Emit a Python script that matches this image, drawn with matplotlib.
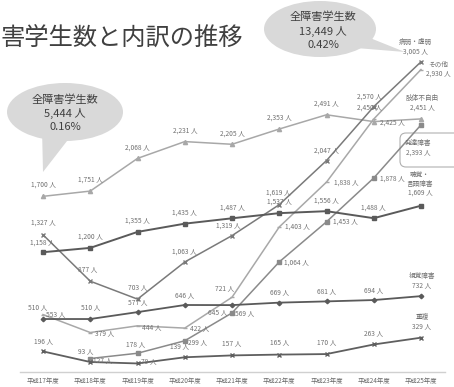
import matplotlib
matplotlib.use("Agg")
import matplotlib.pyplot as plt
from matplotlib.patches import Ellipse, Polygon, FancyBboxPatch

plt.rcParams['font.family'] = ['Noto Sans CJK JP', 'DejaVu Sans']

# ---------------- data ----------------
years = ["平成17年度", "平成18年度", "平成19年度", "平成20年度", "平成21年度",
         "平成22年度", "平成23年度", "平成24年度", "平成25年度"]
shitai = [1700, 1751, 2068, 2231, 2205, 2353, 2491, 2425, 2451]      # 肢体不自由
choukaku = [1158, 1200, 1355, 1435, 1487, 1537, 1556, 1488, 1609]    # 聴覚・言語障害
byoujaku = [1327, 877, 703, 1063, 1319, 1619, 2047, 2570, 3005]      # 病弱・虚弱
sonota = [553, 379, 444, 422, 721, 1403, 1838, 2450, 2930]           # その他
hattatsu = [None, 127, 178, 299, 569, 1064, 1453, 1878, 2393]        # 発達障害
shikaku = [510, 510, 577, 646, 645, 669, 681, 694, 732]              # 視覚障害
choufuku = [196, 93, 79, 139, 157, 165, 170, 263, 329]               # 重複
total_h17 = ["全障害学生数", "5,444 人", "0.16%"]
total_h25 = ["全障害学生数", "13,449 人", "0.42%"]
title = "害学生数と内訳の推移"

# ---------------- layout ----------------
W, H = 454, 387
fig = plt.figure(figsize=(W / 100, H / 100), dpi=100)
fig.patch.set_facecolor("white")

ov = fig.add_axes([0, 0, 1, 1], zorder=0)
ov.set_xlim(0, W)
ov.set_ylim(H, 0)
ov.axis("off")

ax = fig.add_axes([20 / W, 15.4 / H, 425 / W, 340 / H], zorder=1)
ax.patch.set_alpha(0)
ax.set_xlim(-0.487, 8.508)
ax.set_ylim(0, 3298)
for s in ["top", "right", "left"]:
    ax.spines[s].set_visible(False)
ax.spines["bottom"].set_color("#d0d0d0")
ax.spines["bottom"].set_linewidth(1.0)
ax.set_yticks([])
ax.set_xticks(range(len(years)))
ax.set_xticklabels(years, fontsize=4.6, color="#666666")
ax.tick_params(axis="x", length=0, pad=4)

x = list(range(len(years)))

def fmt(v):
    return f"{v:,} 人"

lab_color = "#707070"
lab_fs = 4.8

def draw(vals, color, lw, marker, ms, offs, mew=1.0):
    xs = [i for i, v in zip(x, vals) if v is not None]
    ys = [v for v in vals if v is not None]
    ax.plot(xs, ys, color=color, lw=lw, marker=marker, ms=ms,
            mec=color, mfc=color, mew=mew, zorder=3)
    for xi, v, (dx, dy, ha) in zip(xs, ys, offs):
        if ha is None:
            continue
        ax.annotate(fmt(v), (xi, v), xytext=(dx, dy), textcoords="offset pixels",
                    ha=ha, va="center", fontsize=lab_fs, color=lab_color, zorder=4)

# offsets per point (dx, dy, ha); last point handled by end label
off_shitai = [(0, 12, "center"), (0, 11, "center"), (0, 11, "center"), (0, 11, "center"),
              (0, 11, "center"), (0, 11, "center"), (0, 11, "center"), (6, -1, "left"),
              (0, 0, None)]
off_byou = [(0, 12, "center"), (-3, 12, "center"), (0, 12, "center"), (0, 10, "center"),
            (-4, 10, "center"), (-1, 12, "center"), (0, 10, "center"), (-4, 10, "center"),
            (0, 0, None)]
off_sonota = [(3, 0, "left"), (5, -1, "left"), (4, -1, "left"), (5, 0, "left"),
              (-7, 9, "center"), (6, 0, "left"), (7, -1, "left"), (-4, 11, "center"),
              (0, 0, None)]
off_hattatsu = [(3, -2, "left"), (-2, 9, "center"), (3, -1, "left"), (3, 0, "left"),
                (5, -1, "left"), (6, 0, "left"), (6, -1, "left"), (0, 0, None)]
off_shikaku = [(-5, 12, "center"), (0, 12, "center"), (0, 10, "center"), (0, 10, "center"),
               (-14, -7, "center"), (0, 10, "center"), (0, 10, "center"), (0, 10, "center"),
               (0, 0, None)]
off_chou = [(-1, 10, "center")] + [(0, 11, "center")] * 7 + [(0, 0, None)]
off_juu = [(0, 10, "center"), (-5, 11, "center"), (3, 2, "left"), (-5, 11, "center"),
           (0, 12, "center"), (0, 12, "center"), (0, 12, "center"), (0, 11, "center"),
           (0, 0, None)]

draw(shitai, "#a8a8a8", 1.1, "^", 3, off_shitai)
draw(sonota, "#a8a8a8", 1.1, "_", 3, off_sonota)
draw(byoujaku, "#7a7a7a", 1.1, "x", 3, off_byou)
draw(hattatsu, "#8a8a8a", 1.1, "s", 2.6, off_hattatsu)
draw(choukaku, "#5a5a5a", 1.4, "s", 3.4, off_chou)
draw(shikaku, "#5a5a5a", 1.3, "D", 2.3, off_shikaku)
draw(choufuku, "#5f5f5f", 1.3, "x", 3, off_juu)

# end labels
def endlab(text, v, dx, dy, ha="center"):
    ax.annotate(text, (8, v), xytext=(dx, dy), textcoords="offset pixels",
                ha=ha, va="center", fontsize=lab_fs, color=lab_color,
                linespacing=1.2, zorder=4)

endlab("病弱・虚弱\n" + fmt(byoujaku[-1]), byoujaku[-1], -6, 15)
endlab("その他\n" + fmt(sonota[-1]), sonota[-1], 17, 0)
endlab("肢体不自由\n" + fmt(shitai[-1]), shitai[-1], 1, 16)
endlab("発達障害\n" + fmt(hattatsu[-1]), hattatsu[-1], -3, -23)
endlab("聴覚・\n言語障害\n" + fmt(choukaku[-1]), choukaku[-1], -1, 22)
endlab("視覚障害\n" + fmt(shikaku[-1]), shikaku[-1], 1, 16)
endlab("重複\n" + fmt(choufuku[-1]), choufuku[-1], 1, 16)

# box around 発達障害 label
ov.add_patch(FancyBboxPatch((400, 133), 70, 34, boxstyle="round,pad=0,rounding_size=6",
                            fc="white", ec="#b0b0b0", lw=0.8, zorder=1))

# title
ov.text(1, 38, title, fontsize=17.5, color="#404040", ha="left", va="center")

# bubbles
bub = "#d9d9d9"
ov.add_patch(Polygon([(42, 128), (74, 132), (43, 172)], closed=True, fc=bub, ec="none"))
ov.add_patch(Ellipse((65, 112), 116, 58, fc=bub, ec="none"))
for i, t in enumerate(total_h17):
    ov.text(65, 100 + i * 13.5, t, fontsize=8, color="#404040", ha="center", va="center")

ov.add_patch(Polygon([(350, 30), (356, 48), (405, 52)], closed=True, fc=bub, ec="none"))
ov.add_patch(Ellipse((320, 29), 112, 56, fc=bub, ec="none"))
for i, t in enumerate(total_h25):
    ov.text(323, 17 + i * 14, t, fontsize=8, color="#404040", ha="center", va="center")

fig.savefig("out.png", dpi=100, facecolor="white")
